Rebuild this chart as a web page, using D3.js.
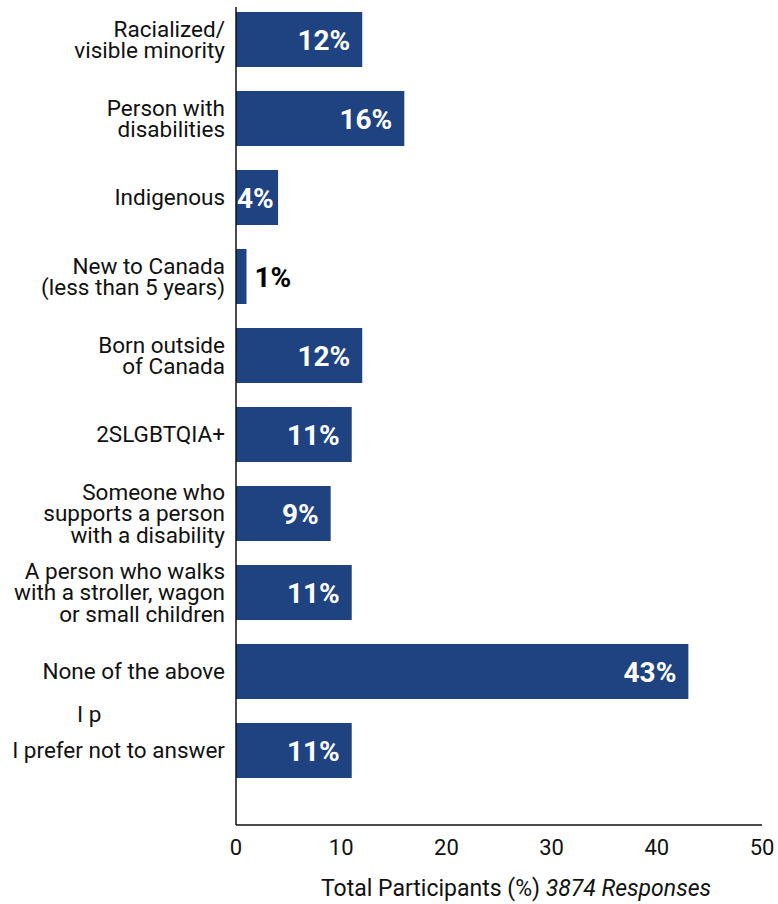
<!DOCTYPE html>
<html>
<head>
<meta charset="utf-8">
<script src="https://cdn.jsdelivr.net/npm/d3@7"></script>
<style>
  body { margin: 0; background: #fff; }
  svg text { font-family: Roboto, "Noto Sans", sans-serif; }
</style>
</head>
<body>
<div id="chart"></div>
<script>
// categories (label lines) and values in %
let categories = [
    'Racialized/|visible minority',
    'Person with|disabilities',
    'Indigenous',
    'New to Canada|(less than 5 years)',
    'Born outside|of Canada',
    '2SLGBTQIA+',
    'Someone who|supports a person|with a disability',
    'A person who walks|with a stroller, wagon|or small children',
    'None of the above',
    'I prefer not to answer'
];
let values = [12, 16, 4, 1, 12, 11, 9, 11, 43, 11];
let xTicks = [0, 10, 20, 30, 40, 50];

let width = 778, height = 904;
let margin = {left: 236, right: 16, top: 0};
let axisTop = 7, axisBottom = 825;

let svg = d3.select('#chart')
    .append('svg')
    .attr('width', width)
    .attr('height', height);

let x = d3.scaleLinear()
    .domain([0, 50])
    .range([margin.left, width - margin.right]);

let y = d3.scaleBand()
    .domain(categories)
    .range([0, 790])
    .paddingInner(0.304)
    .paddingOuter(0.152);

// bars
svg.append('g')
    .selectAll('rect')
    .data(categories)
    .join('rect')
    .attr('x', x(0))
    .attr('y', d => y(d))
    .attr('width', (d, i) => x(values[i]) - x(0))
    .attr('height', y.bandwidth())
    .attr('fill', '#1f4380');

// value labels
svg.append('g')
    .selectAll('text')
    .data(categories)
    .join('text')
    .attr('y', d => y(d) + y.bandwidth() / 2)
    .attr('dy', '0.36em')
    .attr('font-size', 28)
    .attr('font-weight', 'bold')
    .text((d, i) => values[i] + '%')
    .each(function (d, i) {
        let t = d3.select(this);
        let w = this.getComputedTextLength();
        let end = x(values[i]);
        if (values[i] < 2) {
            t.attr('x', end + 8).attr('fill', '#000');
        } else {
            let xe = Math.max(end - 12, x(0) + w + 1);
            t.attr('x', xe).attr('text-anchor', 'end').attr('fill', '#fff');
        }
    });

// category labels
let lineH = 21.5;
svg.append('g')
    .selectAll('text')
    .data(categories)
    .join('text')
    .attr('text-anchor', 'end')
    .attr('font-size', 22.5)
    .attr('fill', '#111')
    .each(function (d) {
        let lines = d.split('|');
        let cy = y(d) + y.bandwidth() / 2;
        let t = d3.select(this);
        lines.forEach((ln, k) => {
            t.append('tspan')
                .attr('x', 225)
                .attr('y', cy + (k - (lines.length - 1) / 2) * lineH)
                .attr('dy', '0.35em')
                .text(ln);
        });
    });

// stray fragment left over in the source graphic
svg.append('text')
    .attr('x', 77)
    .attr('y', y('I prefer not to answer') - 1)
    .attr('font-size', 22.5)
    .attr('fill', '#111')
    .text('I p');

// axes lines
svg.append('line')
    .attr('x1', x(0)).attr('x2', x(0))
    .attr('y1', axisTop).attr('y2', axisBottom)
    .attr('stroke', '#111').attr('stroke-width', 1.5);
svg.append('line')
    .attr('x1', x(0)).attr('x2', x(50))
    .attr('y1', axisBottom).attr('y2', axisBottom)
    .attr('stroke', '#111').attr('stroke-width', 1.5);

// tick labels
svg.append('g')
    .selectAll('text')
    .data(xTicks)
    .join('text')
    .attr('x', d => x(d))
    .attr('y', 847)
    .attr('dy', '0.35em')
    .attr('text-anchor', 'middle')
    .attr('font-size', 22)
    .attr('fill', '#111')
    .text(d => d);

// axis title
let title = svg.append('text')
    .attr('x', 516)
    .attr('y', 888)
    .attr('dy', '0.35em')
    .attr('text-anchor', 'middle')
    .attr('font-size', 23)
    .attr('fill', '#111');
title.append('tspan').text('Total Participants (%) ');
title.append('tspan').attr('font-style', 'italic').text('3874 Responses');
</script>
</body>
</html>
